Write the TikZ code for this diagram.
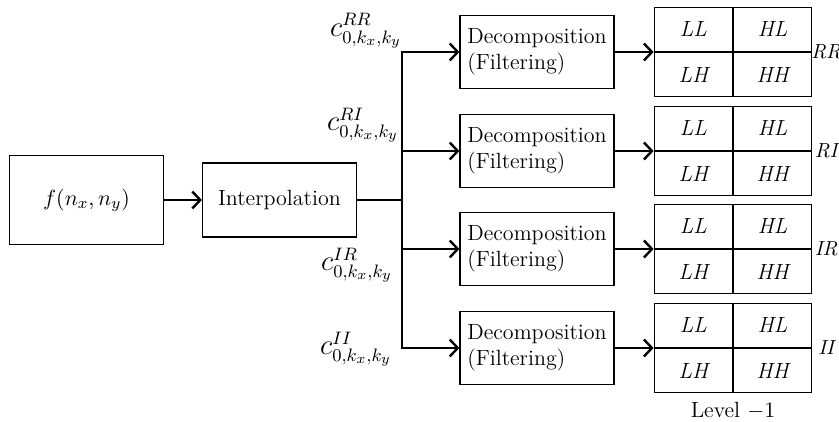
\documentclass[tikz,border=0pt]{standalone}
\usepackage{amsmath,amssymb}
\usepackage{tikz}
\usetikzlibrary{arrows.meta,positioning}

\begin{document}
\begin{tikzpicture}[
    x=0.5pt, y=-0.5pt,
    every node/.style={font=\fontsize{11}{13}\selectfont},
    block/.style={
        draw,
        rectangle,
        line width=0.6pt,
        minimum width=77pt,
        inner sep=3pt
    },
    cell/.style={
        draw,
        rectangle,
        line width=0.7pt,
        minimum width=39pt,
        minimum height=22pt,
        inner sep=0pt,
        font=\fontsize{11}{13}\selectfont\itshape
    },
    arrow/.style={
        draw,
        line width=1.2pt,
        -{Straight Barb[length=4pt,width=8.5pt,line width=1.2pt]}
    },
    coef/.style={inner sep=0pt, font=\fontsize{13.5}{15}\selectfont}
]
\useasboundingbox (0,0) rectangle (839,422);

\node[block, minimum height=44.5pt] (input) at (86.5,200) {$f(n_x,n_y)$};
\node[block, minimum height=37pt] (interp) at (279.5,200) {Interpolation};

\coordinate (bus top) at (402,52);
\coordinate (bus bottom) at (402,348);
\coordinate (bus mid) at (interp.east -| bus top);

\draw[arrow] (interp.west -| input.east) -- (interp.west);
\draw[line width=0.8pt] (interp.east) -- (bus mid);
\draw[line width=1.2pt, line cap=rect] (bus top) -- (bus bottom);

% one decomposition stage and sub-band grid per coefficient set
\foreach \part/\y in {RR/52, RI/151, IR/249, II/348} {
    \node[block, minimum height=36.5pt, align=left] (dec-\part) at (537,\y) {Decomposition\\(Filtering)};
    \node[cell, anchor=south east] (LL-\part) at (733,\y) {LL};
    \node[cell, anchor=south west] (HL-\part) at (733,\y) {HL};
    \node[cell, anchor=north east] (LH-\part) at (733,\y) {LH};
    \node[cell, anchor=north west] (HH-\part) at (733,\y) {HH};
    \node[inner sep=0pt, font=\fontsize{10.2}{12}\selectfont\itshape] (tag-\part) at ([xshift=6.9pt]HH-\part.north east) {\part};
    \draw[arrow] (dec-\part.west -| bus top) -- (dec-\part.west);
    \draw[arrow] (dec-\part.east) -- (LL-\part.south west);
}

\node[coef] (c-RR) at (366,31) {$c^{RR}_{0,k_x,k_y}$};
\node[coef] (c-RI) at (363,125) {$c^{RI}_{0,k_x,k_y}$};
\node[coef] (c-IR) at (357,265) {$c^{IR}_{0,k_x,k_y}$};
\node[coef] (c-II) at (356,349) {$c^{II}_{0,k_x,k_y}$};

\node[below=4pt of LH-II.south east, inner sep=0pt] (level) {Level $-1$};

\end{tikzpicture}
\end{document}
